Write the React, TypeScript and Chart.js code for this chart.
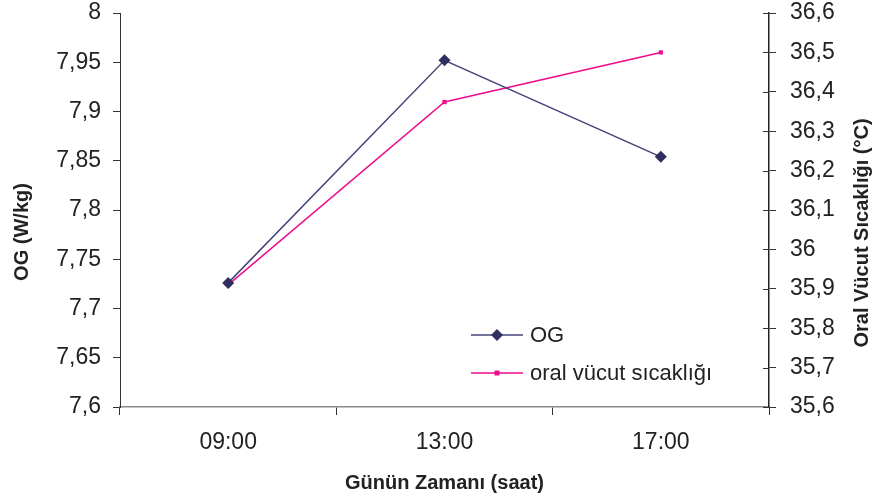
import React, { useEffect, useRef } from "react";
import { Chart, registerables } from "chart.js";

Chart.register(...registerables);

const categories = ["09:00", "13:00", "17:00"];
const ogValues = [7.726, 7.952, 7.854];
const tempValues = [35.91, 36.374, 36.5];
const ogLabel = "OG";
const tempLabel = "oral vücut sıcaklığı";
const xTitle = "Günün Zamanı (saat)";
const yLeftTitle = "OG (W/kg)";
const yRightTitle = "Oral Vücut Sıcaklığı (°C)";

const NAVY = "#2f2e5f";
const NAVY_LINE = "#45447a";
const PINK = "#ec0c8c";

const FONT = "'Liberation Sans', Arial, Helvetica, sans-serif";

const fmt = (v: number | string) => String(Number(v).toFixed(2).replace(/\.?0+$/, "")).replace(".", ",");

const legendPlugin = {
  id: "customLegend",
  afterDraw(chart: any) {
    const ctx = chart.ctx;
    const a = chart.chartArea;
    const x0 = a.left + 351;
    const items = [
      { label: ogLabel, color: NAVY_LINE, marker: NAVY, style: "diamond", y: a.top + 322 },
      { label: tempLabel, color: PINK, marker: PINK, style: "square", y: a.top + 360 },
    ];
    ctx.save();
    items.forEach((it) => {
      ctx.strokeStyle = it.color;
      ctx.lineWidth = 1.5;
      ctx.beginPath();
      ctx.moveTo(x0, it.y);
      ctx.lineTo(x0 + 52, it.y);
      ctx.stroke();
      ctx.fillStyle = it.marker;
      const cx = x0 + 26;
      if (it.style === "diamond") {
        ctx.beginPath();
        ctx.moveTo(cx, it.y - 6);
        ctx.lineTo(cx + 6, it.y);
        ctx.lineTo(cx, it.y + 6);
        ctx.lineTo(cx - 6, it.y);
        ctx.closePath();
        ctx.fill();
      } else {
        ctx.fillRect(cx - 2.5, it.y - 2.5, 5, 5);
      }
      ctx.fillStyle = "#222";
      ctx.font = `22px ${FONT}`;
      ctx.textBaseline = "middle";
      ctx.textAlign = "left";
      ctx.fillText(it.label, x0 + 59, it.y + 1);
    });
    ctx.restore();

    // axis titles, reading bottom-to-top
    const r = chart.scales.y1;
    const midY = (a.top + a.bottom) / 2;
    const drawTitle = (text: string, x: number, y: number) => {
      ctx.save();
      ctx.translate(x, y);
      ctx.rotate(-Math.PI / 2);
      ctx.font = `bold 20px ${FONT}`;
      ctx.textAlign = "center";
      ctx.textBaseline = "middle";
      ctx.fillStyle = "#222";
      ctx.fillText(text, 0, 0);
      ctx.restore();
    };
    drawTitle(yRightTitle, r.right - 14, midY + 23);
    drawTitle(yLeftTitle, 22, midY + 22);

    // right axis ticks crossing inward
    ctx.save();
    ctx.strokeStyle = "#333";
    ctx.lineWidth = 1;
    r.ticks.forEach((t: any) => {
      const y = Math.round(r.getPixelForValue(t.value)) + 0.5;
      ctx.beginPath();
      ctx.moveTo(a.right - 6, y);
      ctx.lineTo(a.right, y);
      ctx.stroke();
    });
    ctx.restore();
  },
};

export default function App() {
  const ref = useRef<HTMLCanvasElement>(null);
  useEffect(() => {
    document.body.style.margin = "0";
    const chart = new Chart(ref.current!, {
      type: "line",
      data: {
        labels: categories,
        datasets: [
          {
            label: ogLabel,
            data: ogValues,
            yAxisID: "y",
            borderColor: NAVY_LINE,
            backgroundColor: NAVY,
            borderWidth: 1.5,
            pointStyle: "rectRot",
            pointRadius: 6,
            pointBorderWidth: 0,
            pointBackgroundColor: NAVY,
            tension: 0,
          },
          {
            label: tempLabel,
            data: tempValues,
            yAxisID: "y1",
            borderColor: PINK,
            backgroundColor: PINK,
            borderWidth: 1.5,
            pointStyle: "rect",
            pointRadius: 3,
            pointBorderWidth: 0,
            pointBackgroundColor: PINK,
            tension: 0,
          },
        ],
      },
      options: {
        animation: false,
        responsive: false,
        maintainAspectRatio: false,
        layout: { padding: { top: 13, left: 0, right: 0, bottom: 0 } },
        plugins: { legend: { display: false }, tooltip: { enabled: false } },
        scales: {
          x: {
            offset: true,
            grid: { offset: true, drawOnChartArea: false, tickLength: 8, color: "#333", tickWidth: 1 },
            border: { color: "#8a8a8a", width: 1.5 },
            ticks: { color: "#222", font: { family: FONT, size: 23 }, padding: 14 },
            title: { display: true, text: xTitle, color: "#222", font: { family: FONT, size: 20, weight: "bold" }, padding: { top: 0, bottom: 5 } },
            afterFit: (s: any) => { s.height = 93; s.paddingLeft = 0; s.paddingRight = 0; },
          },
          y: {
            position: "left",
            min: 7.6,
            max: 8,
            ticks: { stepSize: 0.05, color: "#222", font: { family: FONT, size: 23 }, padding: 12, callback: (v: any) => fmt(v) },
            grid: { drawOnChartArea: false, tickLength: 7, color: "#333" },
            border: { color: "#333", width: 1 },
            title: { display: false },
            afterFit: (s: any) => { s.width = 120; s.paddingTop = 0; s.paddingBottom = 0; },
          },
          y1: {
            position: "right",
            min: 35.6,
            max: 36.6,
            ticks: { stepSize: 0.1, color: "#222", font: { family: FONT, size: 23 }, padding: 14, callback: (v: any) => fmt(v) },
            grid: { drawOnChartArea: false, tickLength: 7, color: "#333" },
            border: { color: "#222", width: 1.5 },
            title: { display: false },
            afterFit: (s: any) => { s.width = 107; s.paddingTop = 0; s.paddingBottom = 0; },
          },
        },
      },
      plugins: [legendPlugin],
    } as any);
    return () => chart.destroy();
  }, []);
  return (
    <div style={{ width: 876, height: 500, background: "#fff" }}>
      <canvas ref={ref} width={876} height={500} style={{ width: 876, height: 500 }} />
    </div>
  );
}
